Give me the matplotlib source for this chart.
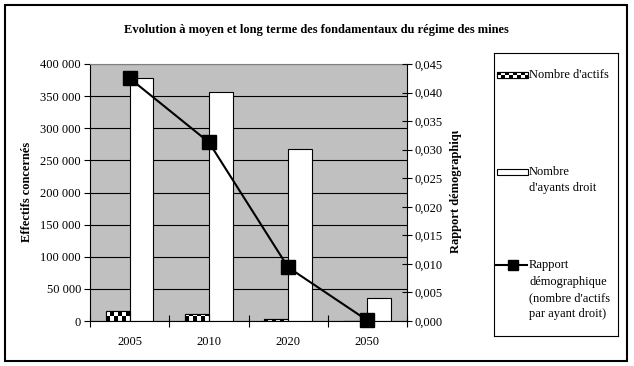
import math

import numpy as np
import matplotlib.pyplot as plt
from matplotlib.patches import Rectangle
from matplotlib.ticker import FuncFormatter, MultipleLocator, FixedLocator
from matplotlib.transforms import Bbox, TransformedBbox

years = ["2005", "2010", "2020", "2050"]
nb_actifs = [16000, 11000, 2500, 500]
nb_ayants_droit = [378000, 356000, 268000, 35500]
rapport_demo = [0.0425, 0.0313, 0.0094, 0.0001]

W, H = 634, 366
plt.rcParams["font.family"] = "Liberation Serif"
plt.rcParams["font.size"] = 9


def fx(x):
    return x / W


def fy(y):
    return 1 - y / H


def checker(ax, patch, cw, ch):
    # fill a patch with a black/white checkerboard, cells cw x ch in data units
    x0, y0 = patch.get_x(), patch.get_y()
    nx = max(1, math.ceil(patch.get_width() / cw))
    ny = max(1, math.ceil(patch.get_height() / ch))
    grid = (np.add.outer(np.arange(ny), np.arange(nx)) % 2).astype(float)
    im = ax.imshow(grid, cmap="gray", vmin=0, vmax=1, interpolation="nearest",
                   origin="lower", extent=(x0, x0 + nx * cw, y0, y0 + ny * ch),
                   aspect="auto", zorder=patch.get_zorder())
    im.set_clip_path(patch)


fig = plt.figure(figsize=(W / 100, H / 100), dpi=100)

# outer frame
fig.patches.append(Rectangle((fx(5), fy(361)), 622 / W, 356 / H, transform=fig.transFigure,
                             fill=False, edgecolor="black", linewidth=1.5))

ax = fig.add_axes([fx(90), fy(321), 317 / W, 257 / H])
ax.set_facecolor("#c0c0c0")
x = list(range(len(years)))
w = 0.3

ax.set_xlim(-0.5, 3.5)
ax.set_ylim(0, 400000)
px_x = 4 / 317          # data units per pixel (x)
px_y = 400000 / 257     # data units per pixel (y)

bars_act = ax.bar([i - w for i in x], nb_actifs, width=w, align="edge", color="black",
                  edgecolor="black", linewidth=0.8, zorder=2)
for b in bars_act:
    checker(ax, b, 4 * px_x, 4.5 * px_y)
ax.bar([i - w for i in x], nb_actifs, width=w, align="edge", fill=False,
       edgecolor="black", linewidth=0.8, zorder=3)
ax.bar(x, nb_ayants_droit, width=w, align="edge", color="white",
       edgecolor="black", linewidth=0.8, zorder=2)

ax.set_xlim(-0.5, 3.5)
ax.set_ylim(0, 400000)
ax.yaxis.set_major_locator(MultipleLocator(50000))
ax.yaxis.set_major_formatter(FuncFormatter(lambda v, p: f"{int(v):,}".replace(",", " ")))
ax.set_axisbelow(True)
ax.yaxis.grid(True, color="black", linewidth=0.8)
ax.xaxis.set_major_locator(FixedLocator([-0.5, 0.5, 1.5, 2.5, 3.5]))
ax.xaxis.set_major_formatter(FuncFormatter(lambda v, p: ""))
ax.xaxis.set_minor_locator(FixedLocator(x))
ax.set_xticklabels(years, minor=True)
ax.tick_params(axis="x", which="major", direction="inout", length=8, width=0.8)
ax.tick_params(axis="x", which="minor", length=0, pad=11)
ax.tick_params(axis="y", direction="out", length=4.5, width=0.8, pad=2)
ax.spines["top"].set_color("#808080")
ax.spines["right"].set_visible(False)
for s in ("left", "bottom"):
    ax.spines[s].set_linewidth(0.8)

ax2 = ax.twinx()
ax2.plot(x, rapport_demo, color="black", linewidth=1.5, marker="s", markersize=10.5,
         clip_on=False, zorder=5)
ax2.set_ylim(0, 0.045)
ax2.yaxis.set_major_locator(MultipleLocator(0.005))
ax2.yaxis.set_major_formatter(FuncFormatter(lambda v, p: f"{v:.3f}".replace(".", ",")))
ax2.tick_params(axis="y", direction="inout", length=7, width=0.8, pad=2)
for s in ("left", "top", "bottom"):
    ax2.spines[s].set_visible(False)
ax2.spines["right"].set_linewidth(0.8)

fig.text(fx(316), fy(30), "Evolution à moyen et long terme des fondamentaux du régime des mines",
         ha="center", va="center", fontweight="bold", fontsize=9)
fig.text(fx(27), fy(192), "Effectifs concernés", rotation=90, ha="center", va="center",
         fontweight="bold", fontsize=9)
t = fig.text(fx(456), fy(253), "Rapport démographique", rotation=90, ha="center",
             va="bottom", fontweight="bold", fontsize=9)
t.set_clip_box(TransformedBbox(Bbox([[0, 0], [1, fy(131)]]), fig.transFigure))

# legend box
lax = fig.add_axes([fx(494), fy(336), 124 / W, 283 / H])
lax.set_xlim(494, 618)
lax.set_ylim(336, 53)
lax.set_xticks([])
lax.set_yticks([])
for s in lax.spines.values():
    s.set_linewidth(0.8)
hk = Rectangle((497, 72), 31, 6, facecolor="black", edgecolor="black", linewidth=0.8)
lax.add_patch(hk)
checker(lax, hk, 4, 3)
lax.add_patch(Rectangle((497, 72), 31, 6, fill=False, edgecolor="black", linewidth=0.8))
lax.add_patch(Rectangle((497, 169), 31, 6, facecolor="white", edgecolor="black", linewidth=0.8))
lax.plot([496, 527], [265, 265], color="black", linewidth=1.5)
lax.plot([513], [265], color="black", marker="s", markersize=6.5)

legend_lines = [
    ("Nombre d'actifs", 75),
    ("Nombre", 172),
    ("d'ayants droit", 188),
    ("Rapport", 265),
    ("démographique", 282),
    ("(nombre d'actifs", 298),
    ("par ayant droit)", 314),
]
for txt, yy in legend_lines:
    lax.text(529, yy, txt, ha="left", va="center", fontsize=9)

fig.savefig("out.png", dpi=100)
